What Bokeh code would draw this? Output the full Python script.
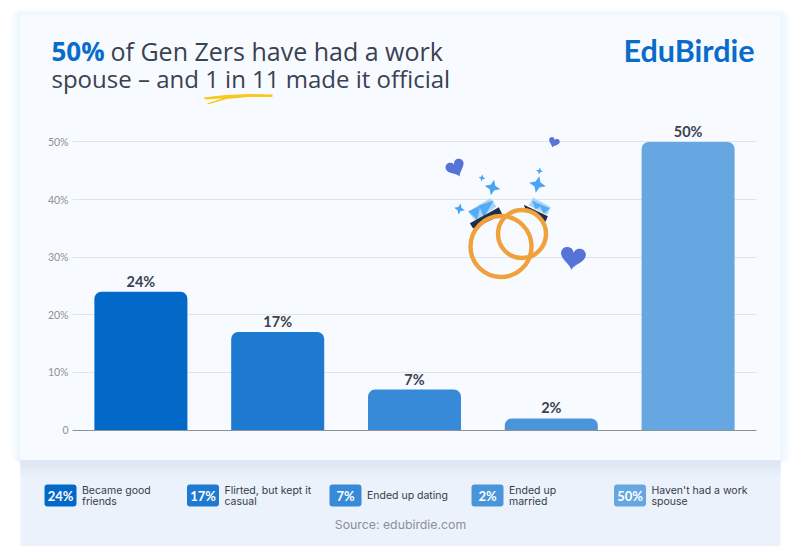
import math
from bokeh.plotting import figure
from bokeh.layouts import column
from bokeh.models import Range1d, Label, BoxAnnotation, FixedTicker, LinearAxis, Grid
from bokeh.core.properties import value
from bokeh.embed import file_html
from bokeh.resources import INLINE

# ---- data ----
categories = ["Became good friends", "Flirted, but kept it casual", "Ended up dating", "Ended up married", "Haven't had a work spouse"]
values = [24, 17, 7, 2, 50]
bar_labels = ["24%", "17%", "7%", "2%", "50%"]
bar_colors = ["#0369c9", "#1e79d1", "#368ad7", "#4a95da", "#66a6e1"]
y_ticks = [0, 10, 20, 30, 40, 50]
y_tick_labels = {0: "0", 10: "10%", 20: "20%", 30: "30%", 40: "40%", 50: "50%"}
legend_lines = [["Became good", "friends"], ["Flirted, but kept it", "casual"], ["Ended up dating"], ["Ended up", "married"], ["Haven't had a work", "spouse"]]
legend_chip_left = [44, 186.5, 329, 471, 613.5]

W, H = 800, 546
FL, FR, FT, FB = 72, 756, 14, 430
PX_PER_UNIT = 5.76
Y_START = -0.1
x_end = len(values)
y_end = Y_START + (FB - FT) / PX_PER_UNIT
def X(px): return (px - FL) / (FR - FL) * x_end
def Y(py): return Y_START + (FB - py) / PX_PER_UNIT

# ---- back layer: panels and texts, in page pixels ----
bg = figure(width=W, height=H, output_backend="svg", toolbar_location=None,
            x_range=Range1d(0, W), y_range=Range1d(H, 0), min_border=0, frame_align=False,
            x_axis_location=None, y_axis_location=None, outline_line_color=None,
            background_fill_color="#ffffff", border_fill_color="#ffffff", margin=(0, 0, 0, 0))
bg.xgrid.visible = False
bg.ygrid.visible = False

def box(l, t, r, b, color, alpha=1.0, radius=0, level="image"):
    bg.add_layout(BoxAnnotation(left=l, right=r, top=t, bottom=b, fill_color=color, fill_alpha=alpha,
                                line_color=None, level=level, border_radius=radius, editable=False))

for i in range(10, 0, -1):
    box(20 - i, 14 - i * 0.5, 780 + i, 460 + i * 0.3, "#cfe2f5", 0.035, radius=i)
box(20, 14, 780, 460, "#f7fbff")
box(20, 460, 780, 546, "#ebf2fb")
for i, a in enumerate([0.5, 0.42, 0.34, 0.27, 0.2, 0.14, 0.08]):
    box(20, 460, 780, 462 + i * 2.5, "#dfe8f5", a)

def text(s, px, py, size, color, font="Lato", style="normal", align="left"):
    bg.add_layout(Label(x=px, y=py, text=s, text_font=font, text_font_size=f"{size}px", text_color=color,
                        text_font_style=style, text_align=align, text_baseline="middle"))

text("50%", 51, 50, 26, "#0a6cc9", font="Open Sans", style="bold")
text("of Gen Zers have had a work", 110, 50, 25, "#3a4151", font="Open Sans")
text("spouse – and 1 in 11 made it official", 51, 77.5, 24, "#3a4151", font="Open Sans")
text("EduBirdie", 623, 49, 30.5, "#0a6cc9", style="bold")

for i, left in enumerate(legend_chip_left):
    box(left, 484, left + 32, 506, bar_colors[i], radius=3, level="annotation")
    text(bar_labels[i], left + 16, 495, 13, "#ffffff", style="bold", align="center")
    lines = legend_lines[i]
    if len(lines) == 1:
        text(lines[0], left + 37.5, 495, 10.5, "#343b4a", font="Inter")
    else:
        text(lines[0], left + 37.5, 489.5, 10.5, "#343b4a", font="Inter")
        text(lines[1], left + 37.5, 500.5, 10.5, "#343b4a", font="Inter")
text("Source: edubirdie.com", 400, 524, 12.3, "#8b9099", font="Inter", align="center")

# ---- front layer: the chart ----
p = figure(width=W, height=H, output_backend="svg", toolbar_location=None,
           x_range=Range1d(0, x_end), y_range=Range1d(Y_START, y_end), frame_align=False,
           min_border_left=FL, min_border_right=W - FR, min_border_top=FT, min_border_bottom=H - FB,
           x_axis_location=None, y_axis_location=None, outline_line_color=None,
           background_fill_color=None, border_fill_color=None, margin=(-H, 0, 0, 0))
p.xgrid.visible = False
p.ygrid.visible = False

yaxis = LinearAxis(ticker=FixedTicker(ticks=y_ticks), major_label_overrides=y_tick_labels,
                   major_tick_line_color=None, minor_tick_line_color=None, axis_line_color=None,
                   major_tick_out=0, major_tick_in=0,
                   major_label_text_font="Lato", major_label_text_font_size="10.5px",
                   major_label_text_color="#8b9099", major_label_standoff=4)
p.add_layout(yaxis, "left")
xaxis = LinearAxis(ticker=FixedTicker(ticks=[]), major_tick_line_color=None, minor_tick_line_color=None,
                   major_tick_out=0, major_tick_in=0,
                   axis_line_color="#8e9196", axis_line_width=1.2, major_label_text_font_size="0px")
p.add_layout(xaxis, "below")
p.add_layout(Grid(dimension=1, ticker=FixedTicker(ticks=y_ticks[1:]), grid_line_color="#dde4ec", grid_line_width=1))

xs = [i + 0.5 for i in range(len(values))]
p.vbar(x=xs, top=values, bottom=0, width=0.68, fill_color=bar_colors, line_color=None, border_radius=(7, 7, 0, 0))
p.text(x=xs, y=values, text=bar_labels, text_align="center", text_baseline="bottom", y_offset=-2,
       text_font=value("Lato"), text_font_style="bold", text_font_size="14.5px", text_color="#3a4151")

def poly(pts, color, alpha=1.0):
    p.patch([X(a) for a, _ in pts], [Y(b) for _, b in pts], fill_color=color, fill_alpha=alpha, line_color=None)
def z(pts):
    return [(430 + a / 3, 125 + b / 3) for a, b in pts]
def heart(cx, cy, s, rot, color="#5674d8"):
    pts = []
    r = math.radians(rot)
    for k in range(48):
        t = 2 * math.pi * k / 48
        a = math.sin(t) ** 3
        b = -(13 * math.cos(t) - 5 * math.cos(2 * t) - 2 * math.cos(3 * t) - math.cos(4 * t)) / 16
        pts.append((cx + s * (a * math.cos(r) - b * math.sin(r)), cy + s * (a * math.sin(r) + b * math.cos(r))))
    poly(pts, color)
def spark(cx, cy, s, rot=12, color="#4aa3f5"):
    pts = []
    for k in range(8):
        rad = s if k % 2 == 0 else s * 0.42
        t = math.radians(rot + 45 * k)
        pts.append((cx + rad * math.sin(t), cy - rad * math.cos(t)))
    poly(pts, color)

heart(455, 167, 9.5, -25)
heart(553.5, 141.5, 5.5, 20)
heart(572.5, 256.5, 12.5, 8)
for c, s in [((492, 187), 8), ((481.5, 177.5), 3.5), ((459, 208.5), 5.5), ((537, 184), 8.5), ((539, 170.5), 3.5)]:
    spark(c[0], c[1], s)
poly(z([(113, 258), (180, 218), (198, 243), (135, 287)]), "#a9d5f9")
poly(z([(295, 240), (308, 216), (361, 245), (350, 268)]), "#a9d5f9")
poly(z([(113, 258), (150, 240), (140, 282)]), "#55acf6")
poly(z([(145, 240), (190, 225), (160, 275)]), "#55acf6")
poly(z([(305, 225), (335, 240), (315, 252)]), "#55acf6")
poly(z([(325, 235), (358, 248), (340, 265)]), "#55acf6")
poly(z([(118, 293), (205, 245), (216, 268), (128, 309)]), "#1f2e4a")
poly(z([(280, 238), (352, 272), (345, 289), (285, 252)]), "#1f2e4a")
p.circle(x=[X(500.5), X(521.5)], y=[Y(246), Y(233.5)], radius=[30.5, 24], radius_units="screen",
         fill_color=None, line_color="#f0a13c", line_width=4.4)
poly([(203, 97), (225, 94.5), (250, 93.5), (272, 94), (272, 96.5), (248, 96.5), (226, 98.5), (209, 103.5), (206, 103), (222, 98), (205, 99)], "#f7c81e")

open("out.html", "w").write(file_html(column(bg, p, spacing=0), INLINE))
